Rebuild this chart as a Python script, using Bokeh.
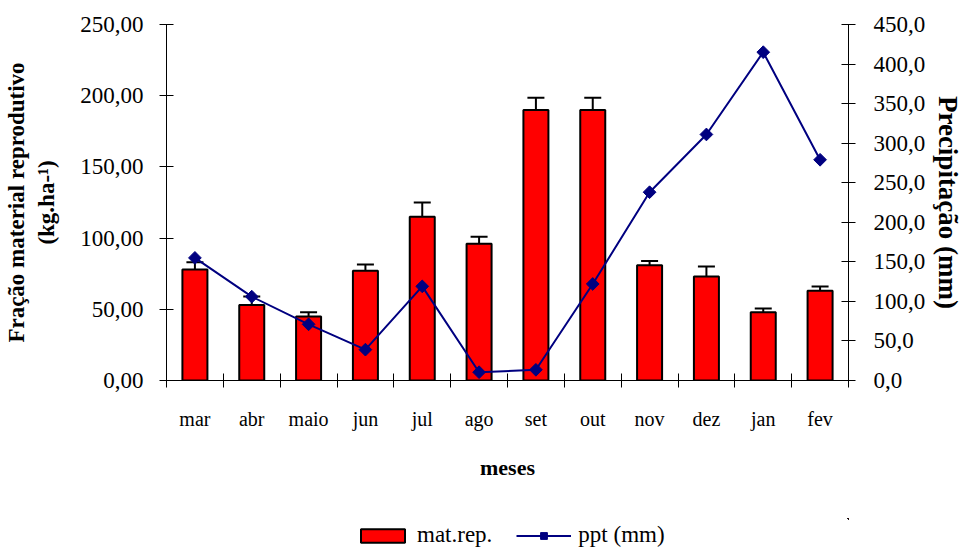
import math
from bokeh.plotting import figure
from bokeh.layouts import column
from bokeh.models import (ColumnDataSource, LinearAxis, Range1d, FixedTicker,
                          Whisker, TeeHead, Legend, LegendItem)
from bokeh.embed import file_html
from bokeh.resources import INLINE

# ---------------- data ----------------
months = ["mar", "abr", "maio", "jun", "jul", "ago", "set", "out", "nov", "dez", "jan", "fev"]
mat_rep = [78, 53, 45, 77, 115, 96, 190, 190, 81, 73, 48, 63]
mat_rep_err = [5, 6, 3, 4.5, 10, 5, 8.5, 8.5, 3, 7, 2.5, 3]
ppt = [155, 106, 71, 39, 119, 10.5, 13.5, 122, 238, 311, 415, 279]

left_ticks = [0, 50, 100, 150, 200, 250]
left_tick_labels = ["0,00", "50,00", "100,00", "150,00", "200,00", "250,00"]
right_ticks = [0, 50, 100, 150, 200, 250, 300, 350, 400, 450]
right_tick_labels = ["0,0", "50,0", "100,0", "150,0", "200,0", "250,0", "300,0", "350,0", "400,0", "450,0"]
legend_labels = ["mat.rep.", "ppt (mm)"]

FONT = "Liberation Serif"
BAR_COLOR = "#ff0000"
LINE_COLOR = "#000080"

n = len(months)
xc = [i + 0.5 for i in range(n)]
bounds = list(range(n + 1))
src = ColumnDataSource(dict(
    x=xc, top=mat_rep,
    upper=[v + e for v, e in zip(mat_rep, mat_rep_err)],
    lower=[v - e for v, e in zip(mat_rep, mat_rep_err)],
    ppt=ppt,
))

p = figure(width=966, height=518, output_backend="svg", toolbar_location=None,
           x_range=Range1d(0, n), y_range=Range1d(0, 250),
           x_axis_location=None,
           min_border_left=166, min_border_right=110, min_border_top=24,
           min_border_bottom=138)
p.extra_y_ranges = {"ppt": Range1d(0, 450)}
p.xgrid.visible = False
p.ygrid.visible = False
p.outline_line_color = None

bar_kw = dict(fill_color=BAR_COLOR, line_color="black", line_width=2)
line_kw = dict(line_color=LINE_COLOR, line_width=2)
mark_kw = dict(marker="square", angle=math.pi / 4, size=9,
               fill_color=LINE_COLOR, line_color=LINE_COLOR)

bars = p.vbar(x="x", top="top", width=0.44, source=src, **bar_kw)

whisk = Whisker(base="x", upper="upper", lower="lower", source=src,
                line_color="black", line_width=2,
                upper_head=TeeHead(size=17, line_width=2, line_color="black"),
                lower_head=TeeHead(size=17, line_width=2, line_color="black"))
p.add_layout(whisk)

ln = p.line(x="x", y="ppt", source=src, y_range_name="ppt", **line_kw)
sc = p.scatter(x="x", y="ppt", source=src, y_range_name="ppt", **mark_kw)

# x axis 1: boundary ticks only
xb = LinearAxis(ticker=FixedTicker(ticks=bounds))
xb.major_label_overrides = {b: "" for b in bounds}
xb.major_label_text_font_size = "2px"
xb.major_label_standoff = 0
xb.major_tick_in = 7
xb.major_tick_out = 7
xb.major_tick_line_color = "black"
xb.minor_tick_line_color = None
xb.axis_line_color = "black"
p.add_layout(xb, "below")

# x axis 2: month labels
xa = LinearAxis(ticker=FixedTicker(ticks=xc))
xa.major_label_overrides = {x: m for x, m in zip(xc, months)}
xa.major_tick_in = 0
xa.major_tick_out = 0
xa.major_tick_line_color = None
xa.minor_tick_line_color = None
xa.axis_line_color = None
xa.major_label_standoff = 20
xa.major_label_text_font = FONT
xa.major_label_text_font_size = "20px"
xa.major_label_text_color = "black"
xa.axis_label = "meses"
xa.axis_label_text_font = FONT
xa.axis_label_text_font_size = "22px"
xa.axis_label_text_font_style = "bold"
xa.axis_label_text_color = "black"
xa.axis_label_standoff = 22
p.add_layout(xa, "below")

# left axis
ya = p.yaxis[0]
ya.ticker = FixedTicker(ticks=left_ticks)
ya.major_label_overrides = {t: l for t, l in zip(left_ticks, left_tick_labels)}
ya.major_tick_in = 7
ya.major_tick_out = 7
ya.minor_tick_line_color = None
ya.axis_line_color = "black"
ya.major_tick_line_color = "black"
ya.major_label_standoff = 16
ya.major_label_text_font = FONT
ya.major_label_text_font_size = "23px"
ya.major_label_text_color = "black"
ya.axis_label = "Fração material reprodutivo\n(kg.ha-¹)"
ya.axis_label_text_font = FONT
ya.axis_label_text_font_size = "23px"
ya.axis_label_text_font_style = "bold"
ya.axis_label_text_color = "black"
ya.axis_label_standoff = 18

# right axis
ra = LinearAxis(y_range_name="ppt", ticker=FixedTicker(ticks=right_ticks))
ra.major_label_overrides = {t: l for t, l in zip(right_ticks, right_tick_labels)}
ra.major_tick_in = 7
ra.major_tick_out = 7
ra.minor_tick_line_color = None
ra.axis_line_color = "black"
ra.major_tick_line_color = "black"
ra.major_label_standoff = 18
ra.major_label_text_font = FONT
ra.major_label_text_font_size = "23px"
ra.major_label_text_color = "black"
ra.axis_label = "Precipitação (mm)"
ra.axis_label_text_font = FONT
ra.axis_label_text_font_size = "27px"
ra.axis_label_text_font_style = "bold"
ra.axis_label_text_color = "black"
ra.axis_label_standoff = 5
p.add_layout(ra, "right")

# legend strip: a small figure below the chart; its renderers reuse the same
# data but lie far outside its view, so only the legend itself is seen
lf = figure(width=966, height=30, output_backend="svg", toolbar_location=None,
            x_range=Range1d(-1001, -1000), y_range=Range1d(-1001, -1000),
            x_axis_location=None, y_axis_location=None, min_border=0)
lf.xgrid.visible = False
lf.ygrid.visible = False
lf.outline_line_color = None
lb = lf.vbar(x="x", top="top", width=0.44, source=src, **bar_kw)
ll = lf.line(x="x", y="ppt", source=src, **line_kw)
ls = lf.scatter(x="x", y="ppt", source=src, **mark_kw)
legend = Legend(items=[LegendItem(label=legend_labels[0], renderers=[lb]),
                       LegendItem(label=legend_labels[1], renderers=[ll, ls])],
                orientation="horizontal", location=(189, 0),
                border_line_color=None, background_fill_alpha=0,
                label_text_font=FONT, label_text_font_size="23px",
                label_text_color="black",
                glyph_width=55, glyph_height=17, spacing=24, label_standoff=7,
                padding=0, margin=0)
lf.add_layout(legend, "center")

layout = column(p, lf, spacing=0)
open("out.html", "w").write(file_html(layout, INLINE))
